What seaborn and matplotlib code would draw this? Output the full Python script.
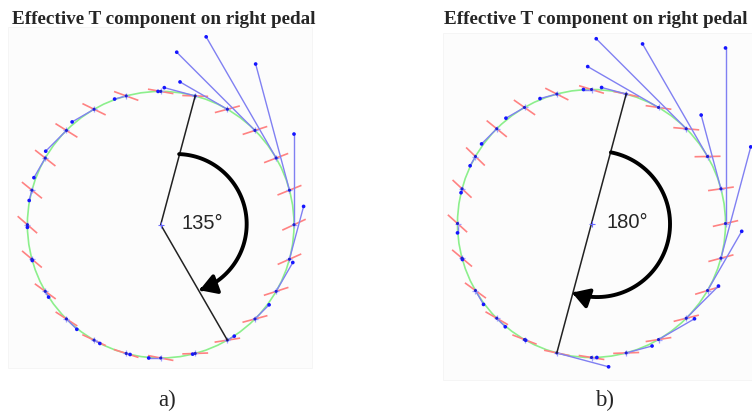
import numpy as np
import pandas as pd
import matplotlib
matplotlib.use("Agg")
import matplotlib.pyplot as plt
import seaborn as sns
from matplotlib.collections import LineCollection
from matplotlib.patches import Circle, FancyArrowPatch, Rectangle
from matplotlib.path import Path

# crank position, degrees clockwise from top dead centre
crank_deg = [0, 15, 30, 45, 60, 75, 90, 105, 120, 135, 150, 165,
             180, 195, 210, 225, 240, 255, 270, 285, 300, 315, 330, 345]

# effective tangential component, % of crank length
force_a = [2, 24, 41, 83, 105, 98, 68, 41, 25, 15, 6, -2,
           -9, 3, 5, 11, 5, 1, 2, 8, 17, 22, 19, 9]
force_b = [6, 19, 61, 95, 97, 57, 131, 86, 51, 34, 31, 20,
           4, 40, 1, 9, 12, 1, 7, 3, 8, 16, 16, 13]

# pedal tilt, degrees (positive = toe up)
pedal_a = [-10, -2, 15, 18, 21, 22, 25, 24, 18, 15, 9, 2,
           -11, -18, -25, -33, -36, -40, -41, -39, -38, -32, -26, -20]
pedal_b = [-17, -12, -8, -5, 1, 8, 13, 15, 17, 14, 9, 2,
           -9, -12, -21, -30, -36, -40, -42, -43, -44, -39, -35, -27]

arm_a = [15, 150]
arm_b = [15, 195]
sweep_text = ["135°", "180°"]
panel_tags = ["a)", "b)"]
title = "Effective T component on right pedal"

sns.set_theme(style="white")
W, H = 752, 412
fig = plt.figure(figsize=(W / 100, H / 100), dpi=100)


def px_to_fig(x, y):
    return x / W, 1 - y / H


# faint plot backgrounds
for (x0, y0, x1, y1) in [(8, 27, 312, 368), (443, 33, 752, 380)]:
    fx, fy = px_to_fig(x0, y1)
    fig.patches.append(Rectangle((fx, fy), (x1 - x0) / W, (y1 - y0) / H,
                                 transform=fig.transFigure, facecolor="#fcfcfc",
                                 edgecolor="#f4f4f4", lw=0.6, zorder=-5))


def draw_panel(ax, force, pedal, arm, label, arc_c, arc_r, arc_from, arc_to, label_xy):
    phi = np.radians(crank_deg)
    px, py = np.sin(phi), np.cos(phi)
    tx, ty = -np.cos(phi), np.sin(phi)          # tangent, counter-clockwise
    f = np.array(force) / 100.0
    ex, ey = px + f * tx, py + f * ty

    ax.add_patch(Circle((0, 0), 1, fill=False, ec="#8cef8c", lw=1.2, zorder=1))

    # pedal orientation marks
    pa = np.radians(pedal)
    hl = 0.097
    red = [[(x - hl * np.cos(a), y - hl * np.sin(a)), (x + hl * np.cos(a), y + hl * np.sin(a))]
           for x, y, a in zip(px, py, pa)]
    ax.add_collection(LineCollection(red, colors="#ff8282", lw=1.2, zorder=2))

    # force vectors
    blue = [[(x, y), (u, v)] for x, y, u, v in zip(px, py, ex, ey)]
    ax.add_collection(LineCollection(blue, colors="#8080f2", lw=1.0, zorder=3))

    tips = pd.DataFrame({"x": ex, "y": ey})
    sns.scatterplot(data=tips, x="x", y="y", ax=ax, s=7, color="#1515ff",
                    edgecolor="none", zorder=5, legend=False)
    pts = pd.DataFrame({"x": px, "y": py})
    sns.scatterplot(data=pts, x="x", y="y", ax=ax, s=22, marker="+", color="#a0a0ff",
                    linewidth=0.9, zorder=4, legend=False)
    sns.scatterplot(data=pts, x="x", y="y", ax=ax, s=5, color="#2020cc",
                    edgecolor="none", zorder=5, legend=False)

    # crank arm
    a0, a1 = np.radians(arm)
    ax.plot([np.sin(a0), 0, np.sin(a1)], [np.cos(a0), 0, np.cos(a1)],
            color="#222222", lw=1.1, zorder=6)
    ax.plot([0], [0], marker="+", ms=4, color="#6a6aff", mew=0.8, zorder=7)

    # sweep arrow
    t = np.radians(np.linspace(arc_from, arc_to, 80))
    verts = np.column_stack([arc_c[0] + arc_r * np.cos(t), arc_c[1] + arc_r * np.sin(t)])
    ax.add_patch(FancyArrowPatch(path=Path(verts),
                                 arrowstyle="-|>,head_length=0.5,head_width=0.3",
                                 mutation_scale=20, color="black", lw=2.8, zorder=8))
    ax.text(label_xy[0], label_xy[1], label, fontsize=14.5, family="Liberation Sans",
            ha="center", va="center", zorder=9)
    ax.axis("off")


# panel a: centre at (160.7, 224.7) px, radius 133.3 px
ax_a = fig.add_axes([0, 0, 376 / W, 1])
ax_a.patch.set_visible(False)
r, cx, cy = 133.3, 160.7, 224.7
ax_a.set_xlim(-cx / r, (376 - cx) / r)
ax_a.set_ylim((cy - H) / r, cy / r)
draw_panel(ax_a, force_a, pedal_a, arm_a, sweep_text[0],
           (0.12, 0.005), 0.525, 88, -71, (0.31, 0.012))

# panel b: centre at (591.5, 223.5) px, radius 134 px
ax_b = fig.add_axes([376 / W, 0, 376 / W, 1])
ax_b.patch.set_visible(False)
r, cx, cy = 134.0, 591.5 - 376, 223.5
ax_b.set_xlim(-cx / r, (376 - cx) / r)
ax_b.set_ylim((cy - H) / r, cy / r)
draw_panel(ax_b, force_b, pedal_b, arm_b, sweep_text[1],
           (0.041, -0.004), 0.545, 79, -110, (0.27, 0.006))

for xl, tag, xt in [(11.7, panel_tags[0], 166.7), (444.3, panel_tags[1], 604.8)]:
    fx, fy = px_to_fig(xl, 23.5)
    fig.text(fx, fy, title, fontsize=13.8, fontweight="bold", family="Liberation Serif",
             ha="left", va="baseline")
    fx, fy = px_to_fig(xt, 406.5)
    fig.text(fx, fy, tag, fontsize=16.5, family="Liberation Serif", ha="center", va="baseline")

fig.savefig("out.png", dpi=100)
